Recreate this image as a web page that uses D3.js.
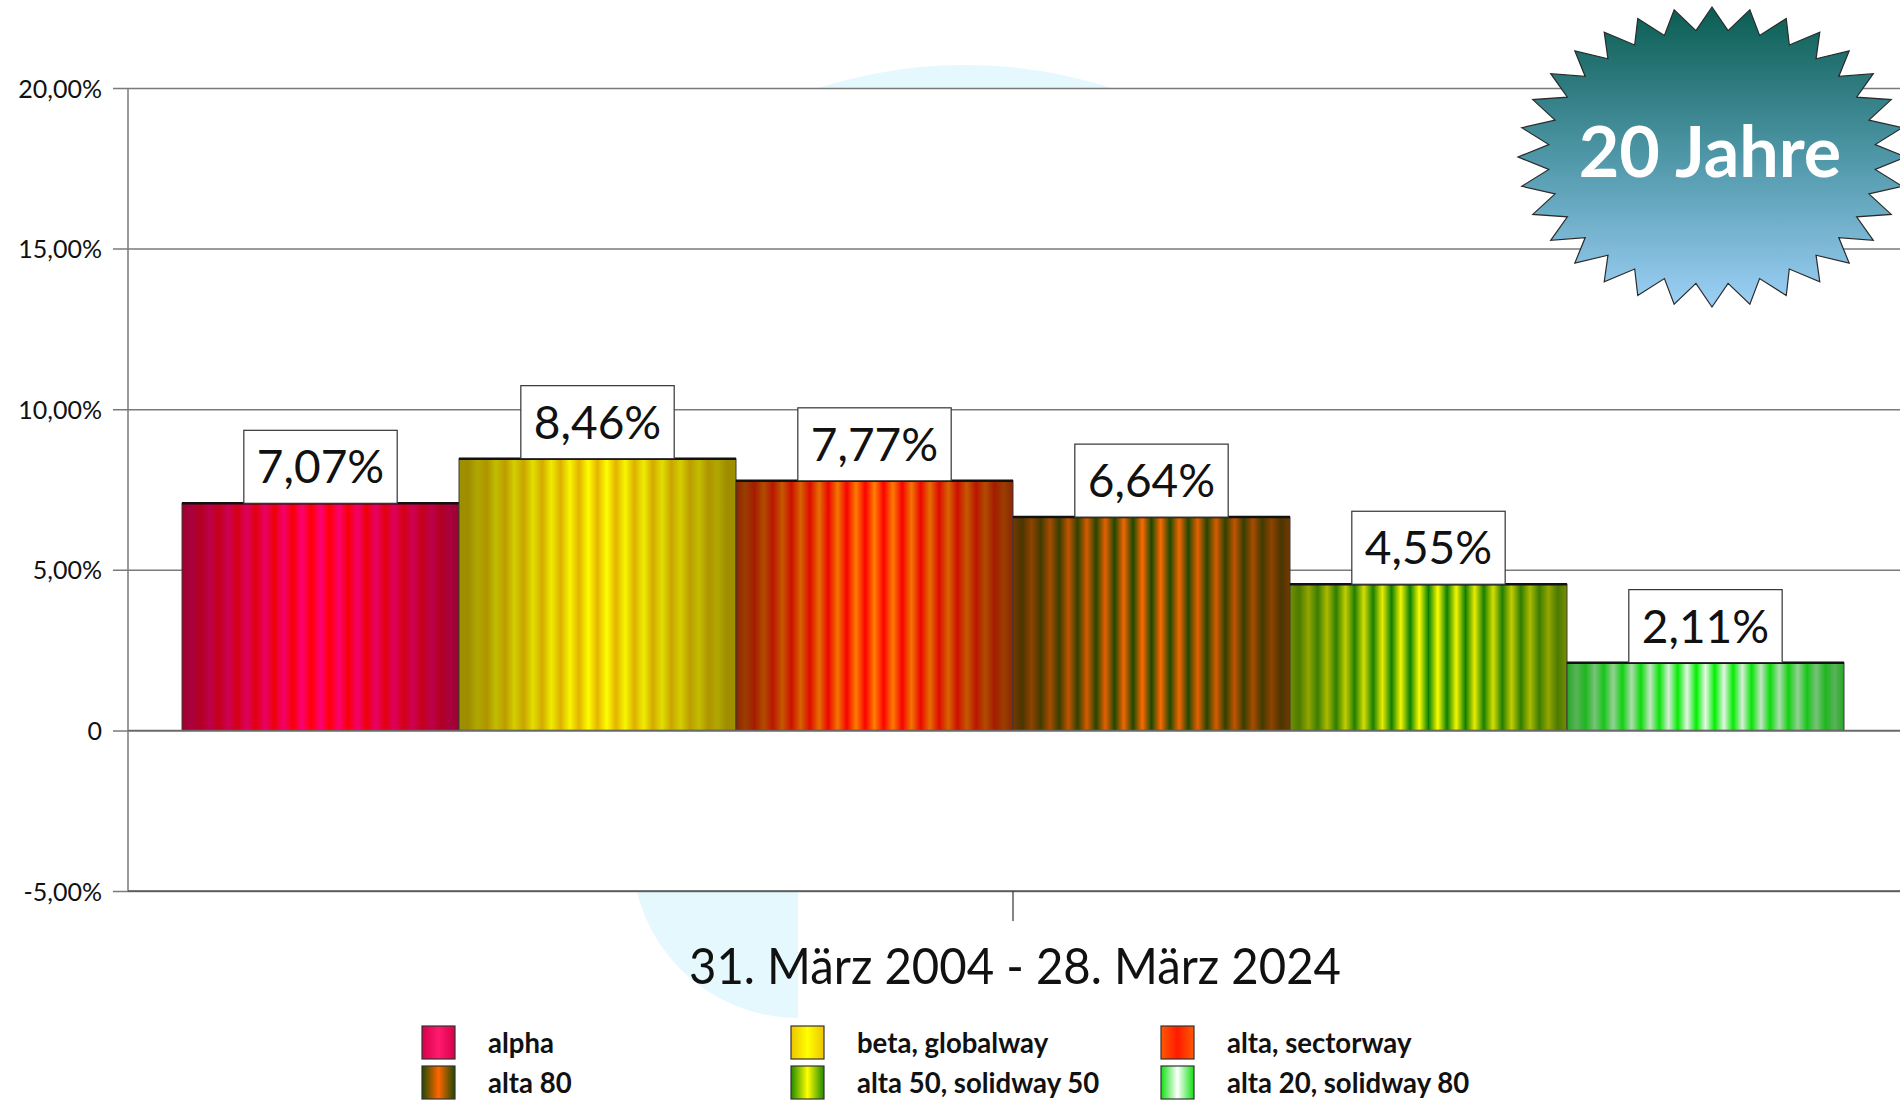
<!DOCTYPE html>
<html>
<head>
<meta charset="utf-8">
<script src="https://cdn.jsdelivr.net/npm/d3@7"></script>
<style>
  html, body { margin: 0; padding: 0; background: #fff; }
  svg { display: block; }
  text { font-family: Lato, "Open Sans", sans-serif; }
</style>
</head>
<body>
<div id="chart"></div>
<script>
(function (d3) {

    // data
    var period = '31. März 2004 - 28. März 2024';
    var series = ['alpha', 'beta, globalway', 'alta, sectorway', 'alta 80', 'alta 50, solidway 50', 'alta 20, solidway 80'];
    var values = [7.07, 8.46, 7.77, 6.64, 4.55, 2.11];
    var valueLabels = ['7,07%', '8,46%', '7,77%', '6,64%', '4,55%', '2,11%'];
    var yTicks = [-5, 0, 5, 10, 15, 20];
    var yTickLabels = ['-5,00%', '0', '5,00%', '10,00%', '15,00%', '20,00%'];
    var badgeText = '20 Jahre';

    // stripe colours for every bar: two alternating hues and a dark edge
    var stripeA = ['#ff0000', '#ffff00', '#ff0000', '#ff6a00', '#ffff00', '#00f000'];
    var stripeB = ['#ff0077', '#e6b400', '#ff8000', '#1a4a00', '#078000', '#eaf7ea'];
    var stripeEdge = ['#8e0030', '#8a7f00', '#7a2a00', '#5a3000', '#5f7a00', '#2c9c2c'];
    var swatchEdge = ['#d8004a', '#eec400', '#ff5a00', '#1f4a00', '#1f8a00', '#10e010'];
    var swatchCenter = ['#ff1a6e', '#ffff00', '#ff1a00', '#ff6600', '#ffff00', '#ffffff'];

    var width = 1900,
        height = 1101;

    var plotLeft = 128,
        plotRight = 1900,
        plotTop = 88,
        plotBottom = 891;

    var svg = d3.select('#chart')
        .append('svg')
        .attr('width', width)
        .attr('height', height);

    var defs = svg.append('defs');

    // pale watermark behind the chart
    var wm = svg.append('g').attr('fill', '#e4f8fd');
    defs.append('clipPath').attr('id', 'wm-top')
        .append('rect').attr('x', 0).attr('y', 0).attr('width', width).attr('height', 543);
    wm.append('circle')
        .attr('clip-path', 'url(#wm-top)')
        .attr('cx', 965).attr('cy', 543).attr('r', 478);
    defs.append('clipPath').attr('id', 'wm-clip')
        .append('rect').attr('x', 0).attr('y', 852).attr('width', 798).attr('height', 300);
    wm.append('circle')
        .attr('clip-path', 'url(#wm-clip)')
        .attr('cx', 798).attr('cy', 852).attr('r', 166);

    svg.append('rect')
        .attr('x', plotLeft)
        .attr('y', plotTop)
        .attr('width', plotRight - plotLeft)
        .attr('height', plotBottom - plotTop)
        .attr('fill', '#fff');

    var yScale = d3.scaleLinear().domain([-5, 20]).range([plotBottom, plotTop]);

    var x0 = d3.scaleBand()
        .domain([period])
        .range([plotLeft, plotRight - 2])
        .paddingOuter(0.0325)
        .paddingInner(0);

    var x1 = d3.scaleBand()
        .domain(series)
        .range([0, x0.bandwidth()])
        .padding(0);

    // gradients
    series.forEach(function (name, i) {
        var g = defs.append('linearGradient')
            .attr('id', 'bar-' + i)
            .attr('x1', '0').attr('x2', '1').attr('y1', '0').attr('y2', '0');
        var n = 30;
        for (var k = 0; k <= n; k++) {
            var t = k / n;
            var base = k % 2 === 0 ? stripeA[i] : stripeB[i];
            var mix = 1 - Math.pow(Math.abs(2 * t - 1), 1.6) * 0.85;
            g.append('stop')
                .attr('offset', (t * 100) + '%')
                .attr('stop-color', d3.interpolateRgb(stripeEdge[i], base)(mix));
        }

        var s = defs.append('linearGradient')
            .attr('id', 'sw-' + i)
            .attr('x1', '0').attr('x2', '1').attr('y1', '0').attr('y2', '0');
        s.append('stop').attr('offset', '0%').attr('stop-color', swatchEdge[i]);
        s.append('stop').attr('offset', '50%').attr('stop-color', swatchCenter[i]);
        s.append('stop').attr('offset', '100%').attr('stop-color', swatchEdge[i]);
    });

    // grid lines
    var yAxis = d3.axisLeft(yScale)
        .tickValues(yTicks)
        .tickSizeInner(-(plotRight - plotLeft))
        .tickSizeOuter(0)
        .tickPadding(0)
        .tickFormat(function (d, i) { return yTickLabels[i]; });

    var gy = svg.append('g')
        .attr('class', 'y axis')
        .attr('transform', 'translate(' + plotLeft + ',0)')
        .call(yAxis);

    gy.select('.domain').remove();
    gy.selectAll('.tick line')
        .attr('stroke', '#7a7a7a')
        .attr('stroke-width', 1.5)
        .attr('x1', -15);
    gy.selectAll('.tick text')
        .attr('x', -26)
        .attr('fill', '#111')
        .attr('font-size', 25)
        .attr('dy', '0.36em');

    svg.append('line')
        .attr('x1', plotLeft).attr('x2', plotLeft)
        .attr('y1', plotTop).attr('y2', plotBottom)
        .attr('stroke', '#7a7a7a')
        .attr('stroke-width', 1.5);

    // bars
    var bars = svg.append('g')
        .attr('transform', 'translate(' + x0(period) + ',0)');

    series.forEach(function (name, i) {
        var bx = x1(name);
        var by = yScale(values[i]);
        bars.append('rect')
            .attr('x', bx)
            .attr('y', by)
            .attr('width', x1.bandwidth())
            .attr('height', yScale(0) - by)
            .attr('fill', 'url(#bar-' + i + ')')
            .attr('stroke', '#3a3a3a')
            .attr('stroke-width', 1);
        bars.append('line')
            .attr('x1', bx).attr('x2', bx + x1.bandwidth())
            .attr('y1', by).attr('y2', by)
            .attr('stroke', '#111')
            .attr('stroke-width', 2.5);
    });

    svg.append('line')
        .attr('x1', plotLeft).attr('x2', plotRight)
        .attr('y1', yScale(0)).attr('y2', yScale(0))
        .attr('stroke', '#6a6a6a')
        .attr('stroke-width', 1.5);

    // value boxes
    series.forEach(function (name, i) {
        var cx = x1(name) + x1.bandwidth() / 2;
        var by = yScale(values[i]);
        var lg = bars.append('g');
        var rect = lg.append('rect')
            .attr('fill', '#fff')
            .attr('stroke', '#333')
            .attr('stroke-width', 1.2);
        var txt = lg.append('text')
            .attr('x', cx)
            .attr('y', by - 20)
            .attr('text-anchor', 'middle')
            .attr('font-size', 46)
            .attr('fill', '#111')
            .text(valueLabels[i]);
        var w = txt.node().getComputedTextLength() + 26;
        rect.attr('x', cx - w / 2)
            .attr('y', by - 73)
            .attr('width', w)
            .attr('height', 73);
    });

    // bottom axis
    svg.append('line')
        .attr('x1', plotLeft).attr('x2', plotRight)
        .attr('y1', plotBottom).attr('y2', plotBottom)
        .attr('stroke', '#555')
        .attr('stroke-width', 1.5);

    var xc = x0(period) + x0.bandwidth() / 2;
    svg.append('line')
        .attr('x1', xc).attr('x2', xc)
        .attr('y1', plotBottom).attr('y2', plotBottom + 30)
        .attr('stroke', '#333')
        .attr('stroke-width', 1.2);

    svg.append('text')
        .attr('x', xc + 2)
        .attr('y', 984)
        .attr('text-anchor', 'middle')
        .attr('font-size', 50)
        .attr('fill', '#111')
        .attr('textLength', 652)
        .attr('lengthAdjust', 'spacingAndGlyphs')
        .text(period);

    // legend
    var legendX = [422, 791, 1161],
        legendY = [1026, 1066];

    var legend = svg.append('g');
    series.forEach(function (name, i) {
        var lx = legendX[i % 3],
            ly = legendY[Math.floor(i / 3)];
        legend.append('rect')
            .attr('x', lx).attr('y', ly)
            .attr('width', 33).attr('height', 33)
            .attr('fill', 'url(#sw-' + i + ')')
            .attr('stroke', '#333')
            .attr('stroke-width', 1.2);
        legend.append('text')
            .attr('x', lx + 66)
            .attr('y', ly + 27)
            .attr('font-size', 29)
            .attr('font-weight', 'bold')
            .attr('fill', '#111')
            .attr('transform', 'translate(' + (lx + 66) + ',0) scale(0.95,1) translate(' + (-(lx + 66)) + ',0)')
            .text(name);
    });

    // starburst badge
    var badge = defs.append('linearGradient')
        .attr('id', 'badge')
        .attr('x1', '0').attr('x2', '0').attr('y1', '0').attr('y2', '1');
    badge.append('stop').attr('offset', '0%').attr('stop-color', '#0a5d52');
    badge.append('stop').attr('offset', '50%').attr('stop-color', '#4f97a8');
    badge.append('stop').attr('offset', '100%').attr('stop-color', '#9dd0f7');

    var spikes = 32,
        bcx = 1712, bcy = 157,
        orx = 194, ory = 150,
        irx = 164, iry = 127;
    var pts = [];
    for (var k = 0; k < spikes * 2; k++) {
        var a = -Math.PI / 2 + k * Math.PI / spikes;
        var rx = k % 2 === 0 ? orx : irx,
            ry = k % 2 === 0 ? ory : iry;
        pts.push([bcx + rx * Math.cos(a), bcy + ry * Math.sin(a)]);
    }
    svg.append('path')
        .attr('d', d3.line()(pts) + 'Z')
        .attr('fill', 'url(#badge)')
        .attr('stroke', '#2a2a2a')
        .attr('stroke-width', 1.2);

    svg.append('text')
        .attr('x', 1710)
        .attr('y', 177)
        .attr('text-anchor', 'middle')
        .attr('font-size', 70)
        .attr('font-weight', 'bold')
        .attr('fill', '#fff')
        .text(badgeText);

})(d3);
</script>
</body>
</html>
